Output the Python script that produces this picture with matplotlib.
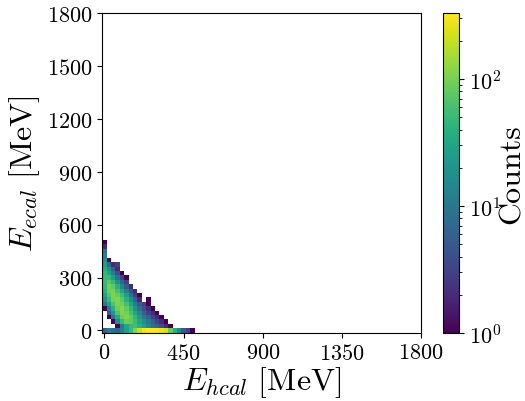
import numpy as np
import matplotlib
matplotlib.use("Agg")
import matplotlib.pyplot as plt
from matplotlib.colors import LogNorm

plt.rcParams["font.family"] = "serif"
plt.rcParams["font.serif"] = ["cmr10"]
plt.rcParams["mathtext.fontset"] = "cm"
plt.rcParams["axes.formatter.use_mathtext"] = True

# bin width in MeV, bins centred on multiples of it
bin_width = 25

# counts per E_ecal row (row index 0 = lowest), columns = E_hcal bins
counts_rows = [
    [6, 12, 8, 6, 12, 25, 50, 110, 200, 290, 330, 320, 310, 280, 220, 90, 40, 15, 5, 3, 1],
    [0, 0, 0, 1, 10, 30, 50, 55, 40, 25, 14, 8, 6, 4, 2, 1],
    [0, 0, 1, 15, 50, 90, 80, 55, 30, 18, 10, 6, 3, 2, 1],
    [0, 1, 8, 35, 90, 110, 80, 45, 22, 10, 6, 3, 2, 1],
    [0, 5, 20, 65, 110, 95, 60, 30, 14, 6, 3, 2, 1],
    [1, 12, 40, 90, 115, 80, 45, 20, 9, 4, 2, 1],
    [10, 28, 65, 105, 95, 60, 30, 12, 5, 3, 1],
    [20, 50, 95, 110, 75, 40, 18, 6, 2, 0, 1],
    [28, 70, 110, 85, 55, 25, 9, 3, 1],
    [40, 90, 100, 60, 30, 12, 4, 2],
    [45, 95, 75, 40, 15, 5, 2],
    [50, 75, 45, 18, 7, 3],
    [50, 50, 25, 9, 3, 1],
    [45, 30, 12, 4, 1],
    [35, 18, 6, 2],
    [25, 7, 2, 3],
    [18, 1],
    [14],
    [9],
    [2],
    [1],
]

ticks_x = [0, 450, 900, 1350, 1800]
ticks_y = [0, 300, 600, 900, 1200, 1500, 1800]

n_x = max(len(r) for r in counts_rows)
n_y = len(counts_rows)
counts = np.zeros((n_y, n_x))
for i, r in enumerate(counts_rows):
    counts[i, :len(r)] = r
counts = np.ma.masked_equal(counts, 0)

x_edges = (np.arange(n_x + 1) - 0.5) * bin_width
y_edges = (np.arange(n_y + 1) - 0.5) * bin_width

fig = plt.figure(figsize=(5.25, 4.02), dpi=100)
ax = fig.add_axes([0.194, 0.169, 0.608, 0.796])
cax = fig.add_axes([0.844, 0.169, 0.031, 0.796])

mesh = ax.pcolormesh(x_edges, y_edges, counts, cmap="viridis",
                     norm=LogNorm(vmin=1, vmax=330))
ax.set_xlim(-15, 1800)
ax.set_ylim(-15, 1800)
ax.set_xticks(ticks_x)
ax.set_yticks(ticks_y)
ax.tick_params(labelsize=16)
ax.set_xlabel(r"$E_{hcal}\ [\mathrm{MeV}]$", fontsize=23, labelpad=1)
ax.set_ylabel(r"$E_{ecal}\ [\mathrm{MeV}]$", fontsize=23, labelpad=3)

cb = fig.colorbar(mesh, cax=cax)
cb.ax.tick_params(labelsize=16)
cb.set_label("Counts", fontsize=23, labelpad=-2)

fig.savefig("out.png", dpi=100)
